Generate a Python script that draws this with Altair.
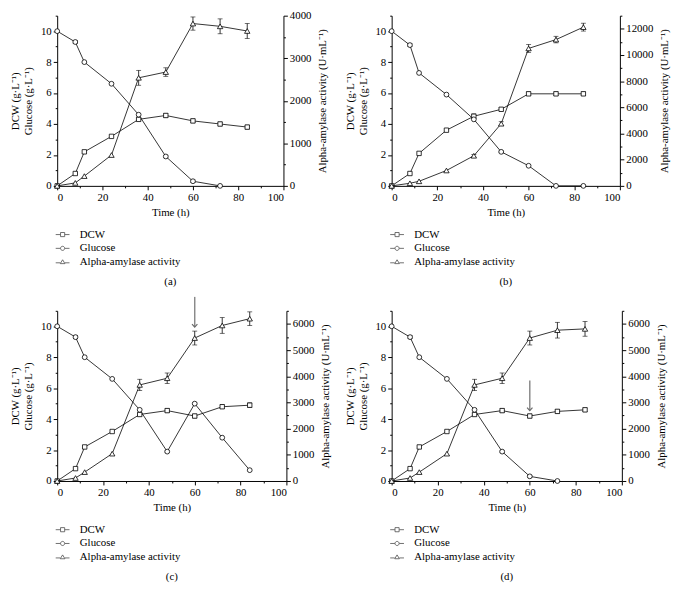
import altair as alt
import pandas as pd

# ---------------- data ----------------
T = [0, 8, 12, 24, 36, 48, 60, 72, 84]
SERIES = ["DCW", "Glucose", "Alpha-amylase activity"]
CAPTIONS = ["(a)", "(b)", "(c)", "(d)"]

# panel (a)
dcw_a = [0, 0.8, 2.2, 3.2, 4.3, 4.55, 4.2, 4.0, 3.8]
dcw_err_a = [0, 0, 0, 0, 0.1, 0.12, 0.12, 0.12, 0.12]
glc_a = [10, 9.3, 8.0, 6.6, 4.6, 1.9, 0.3, 0.0, None]
glc_err_a = [0, 0.1, 0, 0, 0, 0.08, 0.08, 0, 0]
amy_a = [0, 70, 230, 725, 2540, 2675, 3815, 3750, 3640]
amy_err_a = [0, 0, 0, 0, 175, 100, 155, 175, 175]

# panel (b)
dcw_b = [0, 0.8, 2.1, 3.6, 4.5, 4.95, 5.95, 5.95, 5.95]
dcw_err_b = [0, 0, 0, 0, 0.15, 0.1, 0.12, 0.12, 0.12]
glc_b = [10, 9.1, 7.3, 5.9, 4.3, 2.2, 1.3, 0.0, 0.0]
glc_err_b = [0, 0.1, 0, 0, 0, 0.05, 0, 0, 0]
amy_b = [0, 200, 350, 1175, 2300, 4750, 10500, 11175, 12125]
amy_err_b = [0, 0, 0, 0, 100, 150, 300, 250, 300]

# panel (c)
dcw_c = [0, 0.8, 2.2, 3.2, 4.3, 4.55, 4.2, 4.8, 4.9]
dcw_err_c = [0, 0, 0, 0, 0.1, 0.12, 0.12, 0.12, 0.15]
glc_c = [10, 9.3, 8.0, 6.6, 4.6, 1.9, 5.0, 2.8, 0.7]
glc_err_c = [0, 0.1, 0, 0, 0, 0.05, 0.05, 0, 0]
amy_c = [0, 115, 340, 1045, 3670, 3925, 5460, 5940, 6200]
amy_err_c = [0, 0, 0, 0, 215, 200, 265, 300, 260]

# panel (d)
dcw_d = [0, 0.8, 2.2, 3.2, 4.3, 4.55, 4.2, 4.5, 4.6]
dcw_err_d = [0, 0, 0, 0, 0.1, 0.12, 0.12, 0.12, 0.12]
glc_d = [10, 9.3, 8.0, 6.6, 4.6, 1.9, 0.3, 0.0, None]
glc_err_d = [0, 0.1, 0, 0, 0, 0.05, 0.05, 0, 0]
amy_d = [0, 115, 340, 1045, 3670, 3925, 5460, 5760, 5810]
amy_err_d = [0, 0, 0, 0, 215, 200, 265, 300, 280]

# right-axis ranges
amy_max = [4000, 13000, 6500, 6500]
amy_step = [1000, 2000, 1000, 1000]
amy_minor = [500, 1000, 500, 500]

# arrows (time, start, tip) in left-axis units; None = no arrow
arrows = [None, None, (60, 11.9, 9.95), (60, 6.5, 4.55)]

# ---------------- styling ----------------
FONT = "Liberation Serif"
WIDTHS = [230, 232, 233, 234]
H = 173
SW = 0.8

LEG_PATHS = [
    "M-1,0L-0.32,0M0.32,0L1,0M-0.3,-0.3L0.3,-0.3L0.3,0.3L-0.3,0.3Z",
    "M-1,0L-0.32,0M0.32,0L1,0M0.3,0A0.3,0.3,0,1,1,-0.3,0A0.3,0.3,0,1,1,0.3,0Z",
    "M-1,0.1L-0.34,0.1M0.34,0.1L1,0.1M-0.34,0.22L0,-0.34L0.34,0.22Z",
]
CHEVRON = "M-1,-1.1L0,0L1,-1.1"


def cond_size(step):
    return {"condition": {"test": f"datum.value % {step} !== 0", "value": 2}, "value": 4}


def panel(i, dcw, dcw_err, glc, glc_err, amy, amy_err):
    x_enc = alt.X(
        "t:Q",
        scale=alt.Scale(domain=[0, 100], nice=False),
        axis=alt.Axis(
            values=list(range(0, 101, 10)),
            labelExpr="datum.value % 20 === 0 ? datum.label : ''",
            tickSize=cond_size(20),
            title="Time (h)",
        ),
    )
    yl_scale = alt.Scale(domain=[0, 11], nice=False)
    yl_axis = alt.Axis(
        values=list(range(0, 12)),
        labelExpr="datum.value % 2 === 0 ? datum.label : ''",
        tickSize=cond_size(2),
        title=["DCW (g·L⁻¹)", "Glucose (g·L⁻¹)"],
        titlePadding=7,
        orient="left",
    )
    yr_scale = alt.Scale(domain=[0, amy_max[i]], nice=False)
    st = amy_step[i]
    yr_axis = alt.Axis(
        values=list(range(0, amy_max[i] + 1, amy_minor[i])),
        labelExpr=f"datum.value % {st} === 0 ? format(datum.value, 'd') : ''",
        tickSize=cond_size(st),
        title="Alpha-amylase activity (U·mL⁻¹)",
        titleAngle=270,
        titlePadding=17,
        orient="right",
    )

    left_rows, err_rows, cap_rows = [], [], []
    for s, vals, errs in (("DCW", dcw, dcw_err), ("Glucose", glc, glc_err)):
        for t, v, e in zip(T, vals, errs):
            if v is None:
                continue
            left_rows.append(dict(t=t, series=s, value=v))
            if e > 0:
                err_rows.append(dict(t=t, lo=v - e, hi=v + e))
                cap_rows.append(dict(t=t, value=v - e))
                cap_rows.append(dict(t=t, value=v + e))
    ldf = pd.DataFrame(left_rows)
    ledf = pd.DataFrame(err_rows)
    lcdf = pd.DataFrame(cap_rows)

    r_rows, r_err, r_cap = [], [], []
    for t, v, e in zip(T, amy, amy_err):
        r_rows.append(dict(t=t, amy=v))
        if e > 0:
            r_err.append(dict(t=t, lo=v - e, hi=v + e))
            r_cap.append(dict(t=t, amy=v - e))
            r_cap.append(dict(t=t, amy=v + e))
    rdf = pd.DataFrame(r_rows)
    redf = pd.DataFrame(r_err)
    rcdf = pd.DataFrame(r_cap)

    yl = alt.Y("value:Q", scale=yl_scale, axis=yl_axis)
    yr = alt.Y("amy:Q", scale=yr_scale, axis=yr_axis)

    lines = alt.Chart(ldf).mark_line(color="black", strokeWidth=SW).encode(
        x=x_enc, y=yl, detail="series:N"
    )
    lerr = alt.Chart(ledf).mark_rule(color="black", strokeWidth=SW).encode(
        x=x_enc, y=alt.Y("lo:Q", scale=yl_scale, axis=yl_axis), y2="hi:Q"
    )
    lcap = alt.Chart(lcdf).mark_tick(
        color="black", orient="horizontal", size=5, thickness=SW
    ).encode(x=x_enc, y=yl)
    p_dcw = alt.Chart(ldf).transform_filter("datum.series == 'DCW'").mark_point(
        shape="square", size=20, filled=True, fill="white", stroke="black", strokeWidth=SW, opacity=1
    ).encode(x=x_enc, y=yl)
    p_glc = alt.Chart(ldf).transform_filter("datum.series == 'Glucose'").mark_point(
        shape="circle", size=24, filled=True, fill="white", stroke="black", strokeWidth=SW, opacity=1
    ).encode(x=x_enc, y=yl)
    legend_layer = alt.Chart(ldf).transform_filter("datum.t < 0").mark_point(
        filled=False, color="black", strokeWidth=SW
    ).encode(
        x=x_enc,
        y=yl,
        shape=alt.Shape(
            "series:N",
            scale=alt.Scale(domain=SERIES, range=LEG_PATHS),
            legend=alt.Legend(
                title=None,
                orient="none",
                legendX=-2,
                legendY=215,
                direction="vertical",
                symbolSize=196,
                symbolStrokeWidth=SW,
                symbolStrokeColor="black",
                symbolFillColor="white",
                labelFont=FONT,
                labelFontSize=11,
                labelColor="black",
                labelOffset=10,
                rowPadding=1,
                padding=0,
            ),
        ),
    )
    left_layers = [lines, lerr, lcap, p_dcw, p_glc, legend_layer]

    if arrows[i] is not None:
        at, a0, a1 = arrows[i]
        adf = pd.DataFrame([dict(t=at, y0=a0, y1=a1)])
        arr_line = alt.Chart(adf).mark_rule(color="#8a8a8a", strokeWidth=1.5, clip=False).encode(
            x=x_enc, y=alt.Y("y0:Q", scale=yl_scale, axis=yl_axis), y2="y1:Q"
        )
        arr_head = alt.Chart(adf).mark_point(
            shape=CHEVRON, size=30, filled=False, color="#6a6a6a", strokeWidth=1.2, clip=False, opacity=1
        ).encode(x=x_enc, y=alt.Y("y1:Q", scale=yl_scale, axis=yl_axis))
        left_layers += [arr_line, arr_head]

    left = alt.layer(*left_layers)

    rline = alt.Chart(rdf).mark_line(color="black", strokeWidth=SW).encode(x=x_enc, y=yr)
    rerr = alt.Chart(redf).mark_rule(color="black", strokeWidth=SW).encode(
        x=x_enc, y=alt.Y("lo:Q", scale=yr_scale, axis=yr_axis), y2="hi:Q"
    )
    rcap = alt.Chart(rcdf).mark_tick(
        color="black", orient="horizontal", size=5, thickness=SW
    ).encode(x=x_enc, y=yr)
    rpts = alt.Chart(rdf).mark_point(
        shape="triangle-up", size=30, filled=True, fill="white", stroke="black", strokeWidth=SW, opacity=1
    ).encode(x=x_enc, y=yr)
    right = alt.layer(rline, rerr, rcap, rpts)

    return (
        alt.layer(left, right)
        .resolve_scale(y="independent")
        .properties(
            width=WIDTHS[i],
            height=H,
            title=alt.TitleParams(
                CAPTIONS[i],
                orient="bottom",
                frame="group",
                anchor="middle",
                offset=9,
                font=FONT,
                fontSize=11,
                fontWeight="normal",
                color="black",
            ),
        )
    )


pa = panel(0, dcw_a, dcw_err_a, glc_a, glc_err_a, amy_a, amy_err_a)
pb = panel(1, dcw_b, dcw_err_b, glc_b, glc_err_b, amy_b, amy_err_b)
pc = panel(2, dcw_c, dcw_err_c, glc_c, glc_err_c, amy_c, amy_err_c)
pd_ = panel(3, dcw_d, dcw_err_d, glc_d, glc_err_d, amy_d, amy_err_d)

chart = (
    alt.concat(
        pa, pb, pc, pd_,
        columns=2,
        spacing={"row": 127, "column": 107},
        bounds="flush",
        align="none",
    )
    .resolve_scale(shape="independent")
    .resolve_legend(shape="independent")
    .properties(padding={"left": 2, "top": -3, "right": 4, "bottom": 4}, background="white")
    .configure_view(stroke=None)
    .configure_axis(
        grid=False,
        domainColor="black",
        domainWidth=1,
        tickColor="black",
        tickWidth=1,
        labelColor="black",
        labelFont=FONT,
        labelFontSize=11,
        labelPadding=2,
        titleColor="black",
        titleFont=FONT,
        titleFontSize=11,
        titleFontWeight="normal",
    )
)

chart.save("out.html", embed_options={"renderer": "svg", "actions": False})
